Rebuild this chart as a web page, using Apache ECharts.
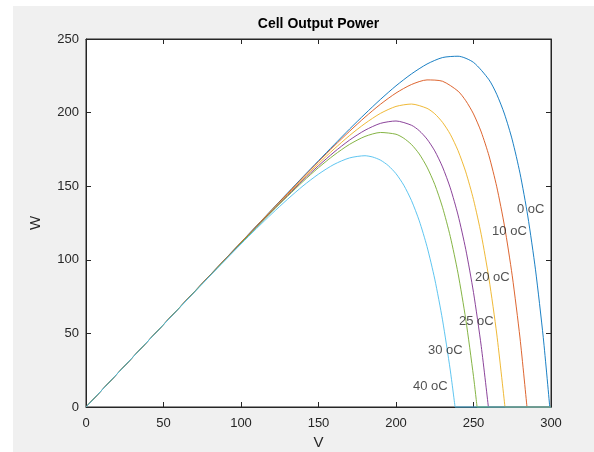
<!DOCTYPE html>
<html>
<head>
<meta charset="utf-8">
<script src="https://cdn.jsdelivr.net/npm/echarts@6/dist/echarts.min.js"></script>
<style>
html,body{margin:0;padding:0;background:#fff;}
#wrap{position:relative;width:594px;height:452px;background:#fff;overflow:hidden;}
#bg{position:absolute;left:13px;top:6px;width:581px;height:446px;background:#f0f0f0;}
#chart{position:absolute;left:0;top:0;width:594px;height:452px;}
</style>
</head>
<body>
<div id="wrap"><div id="bg"></div><div id="chart"></div></div>
<script>
// ---- data ----
const chartTitle = 'Cell Output Power';
const xName = 'V';
const yName = 'W';
const xTicks = [0, 50, 100, 150, 200, 250, 300];
const yTicks = [0, 50, 100, 150, 200, 250];

const seriesNames = ['0 oC', '10 oC', '20 oC', '25 oC', '30 oC', '40 oC'];

const v0 = [0, 20, 40, 60, 80, 100, 120, 140, 150, 160, 170, 180, 190, 200, 210, 220, 230, 240, 250, 260, 265, 270, 275, 280, 285, 290, 295, 299.2];
const p0 = [0, 22.4, 44.8, 67.2, 89.6, 111.9, 134.2, 156.4, 167.3, 178.1, 188.8, 199.1, 209.0, 218.2, 226.3, 233.0, 237.4, 238.3, 234.1, 222.3, 212.4, 199.0, 181.5, 158.8, 129.8, 93.2, 47.3, 0];

const v10 = [0, 20, 40, 60, 80, 100, 120, 140, 150, 160, 170, 180, 190, 200, 210, 220, 230, 240, 245, 250, 255, 260, 265, 270, 275, 280, 284.5];
const p10 = [0, 22.4, 44.8, 67.2, 89.6, 111.85, 134.0, 155.9, 166.7, 177.2, 187.3, 196.9, 205.7, 213.3, 219.1, 222.2, 221.3, 214.6, 208.1, 199.1, 186.8, 170.6, 149.6, 122.9, 89.1, 46.9, 0];

const v20 = [0, 20, 40, 60, 80, 100, 120, 140, 150, 160, 170, 180, 190, 200, 210, 220, 225, 230, 235, 240, 245, 250, 255, 260, 265, 270.3];
const p20 = [0, 22.4, 44.8, 67.2, 89.5, 111.7, 133.6, 155.0, 165.3, 175.2, 184.4, 192.6, 199.5, 204.2, 205.8, 202.9, 199.2, 193.4, 185.3, 174.2, 159.7, 140.9, 117.1, 87.0, 49.6, 0];

const v25 = [0, 20, 40, 60, 80, 100, 120, 140, 150, 160, 170, 180, 190, 200, 210, 215, 220, 225, 230, 235, 240, 245, 250, 255, 259.6];
const p25 = [0, 22.4, 44.8, 67.2, 89.4, 111.5, 133.2, 154.1, 163.9, 173.1, 181.3, 188.0, 192.7, 194.3, 191.4, 187.7, 182.0, 174.0, 163.1, 148.9, 130.5, 107.1, 77.8, 41.2, 0];

const v30 = [0, 20, 40, 60, 80, 100, 120, 140, 150, 160, 170, 180, 190, 200, 205, 210, 215, 220, 225, 230, 235, 240, 245, 250, 252.3];
const p30 = [0, 22.4, 44.8, 67.2, 89.3, 111.3, 132.8, 153.2, 162.6, 171.1, 178.4, 183.8, 186.5, 185.3, 182.6, 178.3, 171.9, 163.0, 151.2, 135.7, 115.9, 90.9, 59.6, 20.8, 0];

const v40 = [0, 20, 40, 60, 80, 100, 110, 120, 130, 140, 150, 160, 170, 180, 185, 190, 195, 200, 205, 210, 215, 220, 225, 230, 235, 238.1];
const p40 = [0, 22.4, 44.8, 67.0, 89.05, 110.7, 121.2, 131.4, 141.1, 150.2, 158.2, 164.8, 169.2, 170.7, 169.8, 167.7, 164.0, 158.5, 150.7, 140.2, 126.5, 109.0, 86.9, 59.2, 25.1, 0];

// each curve stays at 0 W from its open-circuit voltage up to the axis end
const vEnd = 300;
const pEnd = 0;

const labelTexts = ['0 oC', '10 oC', '20 oC', '25 oC', '30 oC', '40 oC'];
const labelV = [278, 262, 251, 240.6, 220.6, 211];
const labelP = [134, 119, 88.3, 57.9, 38.7, 13.8];

// ---- styling ----
const colors = ['#0072BD', '#D95319', '#EDB120', '#7E2F8E', '#77AC30', '#4DBEEE'];
const axisColor = '#262626';
const fontFam = '"Liberation Sans", Arial, Helvetica, sans-serif';

const allV = [v0, v10, v20, v25, v30, v40];
const allP = [p0, p10, p20, p25, p30, p40];

const lineSeries = [];
seriesNames.forEach((n, i) => {
  const V = allV[i], P = allP[i];
  lineSeries.push({
    name: n,
    type: 'line',
    xAxisIndex: 0,
    yAxisIndex: 0,
    showSymbol: false,
    symbol: 'none',
    smooth: 0.25,
    clip: true,
    z: 2 + i,
    lineStyle: { width: 0.9, color: colors[i] },
    data: V.map((v, k) => [v, P[k]])
  });
  lineSeries.push({
    name: n,
    type: 'line',
    xAxisIndex: 0,
    yAxisIndex: 0,
    showSymbol: false,
    symbol: 'none',
    clip: false,
    z: 2 + i,
    lineStyle: { width: 0.9, color: colors[i] },
    data: [[V[V.length - 1], P[P.length - 1]], [vEnd, pEnd]]
  });
});

const labelSeries = {
  type: 'scatter',
  xAxisIndex: 0,
  yAxisIndex: 0,
  symbolSize: 0,
  silent: true,
  z: 10,
  data: labelTexts.map((t, i) => ({ value: [labelV[i], labelP[i]], name: t })),
  label: {
    show: true,
    position: 'right',
    distance: 0,
    formatter: p => p.name,
    color: axisColor,
    fontSize: 13,
    fontFamily: fontFam,
    align: 'left',
    verticalAlign: 'middle'
  }
};

const axisCommon = {
  axisLine: { show: true, onZero: false, lineStyle: { color: axisColor, width: 1 } },
  axisTick: { show: true, inside: true, length: 5, lineStyle: { color: axisColor, width: 1 } },
  splitLine: { show: false }
};

const chart = echarts.init(document.getElementById('chart'), null, { renderer: 'canvas' });
chart.setOption({
  animation: false,
  backgroundColor: 'transparent',
  grid: {
    left: 86, top: 39, right: 43, bottom: 45,
    show: true, backgroundColor: '#ffffff', borderColor: axisColor, borderWidth: 1,
    containLabel: false, outerBoundsMode: 'none'
  },
  graphic: [{
    type: 'text',
    x: 318.5, y: 24,
    style: {
      text: chartTitle, textAlign: 'center', textVerticalAlign: 'middle',
      font: 'bold 14px ' + fontFam, fill: '#000'
    }
  }],
  xAxis: [
    Object.assign({
      type: 'value', position: 'bottom', min: xTicks[0], max: xTicks[xTicks.length - 1], interval: 50,
      name: xName, nameLocation: 'middle', nameGap: 24,
      nameTextStyle: { color: axisColor, fontSize: 15, fontFamily: fontFam },
      axisLabel: { color: axisColor, fontSize: 13, fontFamily: fontFam, margin: 10 }
    }, axisCommon),
    Object.assign({
      type: 'value', position: 'top', min: xTicks[0], max: xTicks[xTicks.length - 1], interval: 50,
      axisLabel: { show: false }
    }, axisCommon)
  ],
  yAxis: [
    Object.assign({
      type: 'value', position: 'left', min: yTicks[0], max: yTicks[yTicks.length - 1], interval: 50,
      name: yName, nameLocation: 'middle', nameGap: 43, nameRotate: 90,
      nameTextStyle: { color: axisColor, fontSize: 15, fontFamily: fontFam },
      axisLabel: { color: axisColor, fontSize: 13, fontFamily: fontFam, margin: 7 }
    }, axisCommon),
    Object.assign({
      type: 'value', position: 'right', min: yTicks[0], max: yTicks[yTicks.length - 1], interval: 50,
      axisLabel: { show: false }
    }, axisCommon)
  ],
  series: lineSeries.concat([labelSeries])
});
</script>
</body>
</html>
